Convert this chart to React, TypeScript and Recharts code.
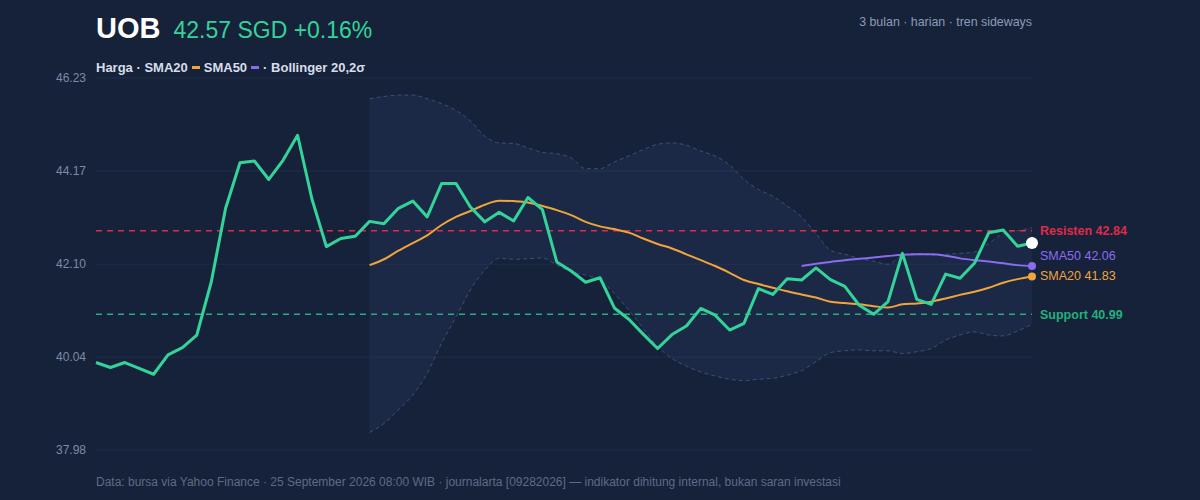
import React from "react";
import {
  ComposedChart,
  Line,
  Area,
  XAxis,
  YAxis,
  CartesianGrid,
  ReferenceLine,
} from "recharts";

// daily closes, 66 sessions (SGD)
const price = [
  39.92, 39.81, 39.92, 39.79, 39.66, 40.09, 40.25, 40.53, 41.7, 43.34,
  44.35, 44.39, 43.98, 44.41, 44.96, 43.54, 42.49, 42.67, 42.72, 43.05,
  43.0, 43.34, 43.5, 43.15, 43.89, 43.89, 43.37, 43.04, 43.25, 43.06,
  43.58, 43.31, 42.15, 41.95, 41.7, 41.8, 41.13, 40.88, 40.55, 40.23,
  40.54, 40.73, 41.12, 40.97, 40.64, 40.79, 41.56, 41.43, 41.78, 41.75,
  42.02, 41.76, 41.61, 41.19, 40.99, 41.27, 42.34, 41.32, 41.21, 41.88,
  41.79, 42.12, 42.8, 42.86, 42.5, 42.57,
];

// indicators start once enough history exists
const SMA20_START = 19;
const sma20 = [
  42.08, 42.21, 42.4, 42.57, 42.74, 42.97, 43.15, 43.28, 43.42, 43.51,
  43.5, 43.47, 43.39, 43.3, 43.19, 43.04, 42.94, 42.88, 42.8, 42.67,
  42.55, 42.45, 42.32, 42.19, 42.06, 41.91, 41.75, 41.66, 41.58, 41.5,
  41.43, 41.36, 41.27, 41.24, 41.21, 41.17, 41.14, 41.21, 41.23, 41.27,
  41.34, 41.42, 41.49, 41.58, 41.69, 41.77, 41.83,
];

const SMA50_START = 49;
const sma50 = [
  42.06, 42.11, 42.15, 42.19, 42.22, 42.25, 42.28, 42.31, 42.32, 42.32,
  42.29, 42.23, 42.19, 42.16, 42.12, 42.08, 42.06,
];

const bbUpper = [
  45.77, 45.82, 45.85, 45.85, 45.77, 45.66, 45.51, 45.28, 44.94, 44.79,
  44.78, 44.68, 44.58, 44.55, 44.46, 44.22, 44.22, 44.37, 44.5, 44.64,
  44.76, 44.79, 44.74, 44.61, 44.5, 44.3, 43.98, 43.76, 43.61, 43.39,
  43.15, 42.78, 42.41, 42.32, 42.23, 42.17, 42.1, 42.3, 42.34, 42.3,
  42.32, 42.34, 42.37, 42.56, 42.78, 42.84, 42.91,
];
const bbLower = [
  38.37, 38.57, 38.87, 39.2, 39.68, 40.35, 40.93, 41.53, 41.97, 42.23,
  42.21, 42.22, 42.24, 42.08, 41.93, 41.86, 41.75, 41.45, 41.08, 40.68,
  40.28, 40.01, 39.84, 39.71, 39.62, 39.55, 39.52, 39.55, 39.57, 39.64,
  39.74, 39.94, 40.14, 40.18, 40.2, 40.18, 40.18, 40.12, 40.16, 40.23,
  40.42, 40.53, 40.6, 40.53, 40.51, 40.62, 40.77,
];

const yTicks = [37.98, 40.04, 42.1, 44.17, 46.23];
const resistance = 42.84;
const support = 40.99;

const LAST = price.length - 1;

const rows = price.map((p, i) => {
  const b = i - SMA20_START;
  const m = i - SMA50_START;
  return {
    i,
    price: p,
    sma20: b >= 0 ? sma20[b] : null,
    sma50: m >= 0 ? sma50[m] : null,
    upper: b >= 0 ? bbUpper[b] : null,
    lower: b >= 0 ? bbLower[b] : null,
    band: b >= 0 ? [bbLower[b], bbUpper[b]] : null,
  };
});

const C = {
  bg: "#16223a",
  grid: "#1f2d48",
  price: "#34d399",
  sma20: "#f0a43a",
  sma50: "#8b6cf0",
  band: "#3a5078",
  red: "#e0294b",
  green: "#22b07d",
  tick: "#7d8aa4",
};

// draws a marker (and optional label) only on the last session
const endDot =
  (color: string, r: number, label?: string, dy = 0) =>
  (props: any) => {
    const { cx, cy, index } = props;
    if (index !== LAST || cy == null) return <g key={`d-${index}`} />;
    return (
      <g key={`d-${index}`}>
        <circle cx={cx} cy={cy} r={r} fill={color} />
        {label && (
          <text
            x={cx + 8}
            y={cy + dy}
            fill={color}
            fontSize={12.5}
            dominantBaseline="central"
          >
            {label}
          </text>
        )}
      </g>
    );
  };

export default function App() {
  return (
    <div
      style={{
        position: "fixed",
        left: 0,
        top: 0,
        width: 1200,
        height: 500,
        background: C.bg,
        fontFamily: '"Liberation Sans", Arial, sans-serif',
        overflow: "hidden",
      }}
    >
      <div
        style={{
          position: "absolute",
          left: 96,
          top: 12,
          display: "flex",
          alignItems: "baseline",
          gap: 13,
        }}
      >
        <span style={{ fontSize: 29, fontWeight: 700, color: "#ffffff" }}>UOB</span>
        <span style={{ fontSize: 23, color: C.price }}>
          {price[LAST].toFixed(2)} SGD +0.16%
        </span>
      </div>
      <div
        style={{
          position: "absolute",
          right: 168,
          top: 16,
          fontSize: 12.4,
          lineHeight: "12px",
          color: "#8d9bb5",
        }}
      >
        3 bulan · harian · tren sideways
      </div>
      <div
        style={{
          position: "absolute",
          left: 96,
          top: 61,
          display: "flex",
          alignItems: "center",
          fontSize: 13,
          lineHeight: "13px",
          fontWeight: 700,
          color: "#d7deea",
        }}
      >
        <span>Harga · SMA20</span>
        <span style={{ width: 8, height: 3, background: C.sma20, margin: "0 4px" }} />
        <span>SMA50</span>
        <span style={{ width: 8, height: 3, background: C.sma50, margin: "0 4px" }} />
        <span>· Bollinger 20,2σ</span>
      </div>

      <ComposedChart
        width={1200}
        height={500}
        data={rows}
        margin={{ top: 78, right: 168, bottom: 50, left: 0 }}
      >
        <CartesianGrid vertical={false} stroke={C.grid} />
        <XAxis dataKey="i" type="number" domain={[0, LAST]} hide />
        <YAxis
          domain={[yTicks[0], yTicks[yTicks.length - 1]]}
          ticks={yTicks}
          width={96}
          axisLine={false}
          tickLine={false}
          tickSize={0}
          tickMargin={10}
          tick={{ fill: C.tick, fontSize: 12 }}
          tickFormatter={(v: number) => v.toFixed(2)}
        />

        {/* Bollinger band fill + dashed edges */}
        <Area
          type="monotone"
          dataKey="band"
          stroke="none"
          fill="rgb(60,90,150)"
          fillOpacity={0.15}
          isAnimationActive={false}
        />
        <Line
          type="monotone"
          dataKey="upper"
          stroke={C.band}
          strokeWidth={1}
          strokeDasharray="4 3"
          dot={false}
          isAnimationActive={false}
        />
        <Line
          type="monotone"
          dataKey="lower"
          stroke={C.band}
          strokeWidth={1}
          strokeDasharray="4 3"
          dot={false}
          isAnimationActive={false}
        />

        <ReferenceLine
          y={resistance}
          stroke={C.red}
          strokeWidth={1.5}
          strokeDasharray="6 5"
          label={{
            value: `Resisten ${resistance.toFixed(2)}`,
            position: "right",
            offset: 8,
            fill: C.red,
            fontSize: 12.5,
            fontWeight: 700,
          }}
        />
        <ReferenceLine
          y={support}
          stroke={C.green}
          strokeWidth={1.5}
          strokeDasharray="6 5"
          label={{
            value: `Support ${support.toFixed(2)}`,
            position: "right",
            offset: 8,
            fill: C.green,
            fontSize: 12.5,
            fontWeight: 700,
          }}
        />

        <Line
          type="monotone"
          dataKey="sma20"
          stroke={C.sma20}
          strokeWidth={2}
          dot={endDot(C.sma20, 4, `SMA20 ${sma20[sma20.length - 1].toFixed(2)}`)}
          activeDot={false}
          isAnimationActive={false}
        />
        <Line
          type="monotone"
          dataKey="sma50"
          stroke={C.sma50}
          strokeWidth={2}
          dot={endDot(C.sma50, 4, `SMA50 ${sma50[sma50.length - 1].toFixed(2)}`, -10)}
          activeDot={false}
          isAnimationActive={false}
        />
        <Line
          type="linear"
          dataKey="price"
          stroke={C.price}
          strokeWidth={3}
          strokeLinejoin="round"
          dot={endDot("#ffffff", 6)}
          activeDot={false}
          isAnimationActive={false}
        />
      </ComposedChart>

      <div
        style={{
          position: "absolute",
          left: 96,
          top: 476,
          fontSize: 12,
          lineHeight: "12px",
          color: "#5d6b86",
        }}
      >
        Data: bursa via Yahoo Finance · 25 September 2026 08:00 WIB · journalarta [09282026] — indikator
        dihitung internal, bukan saran investasi
      </div>
    </div>
  );
}
